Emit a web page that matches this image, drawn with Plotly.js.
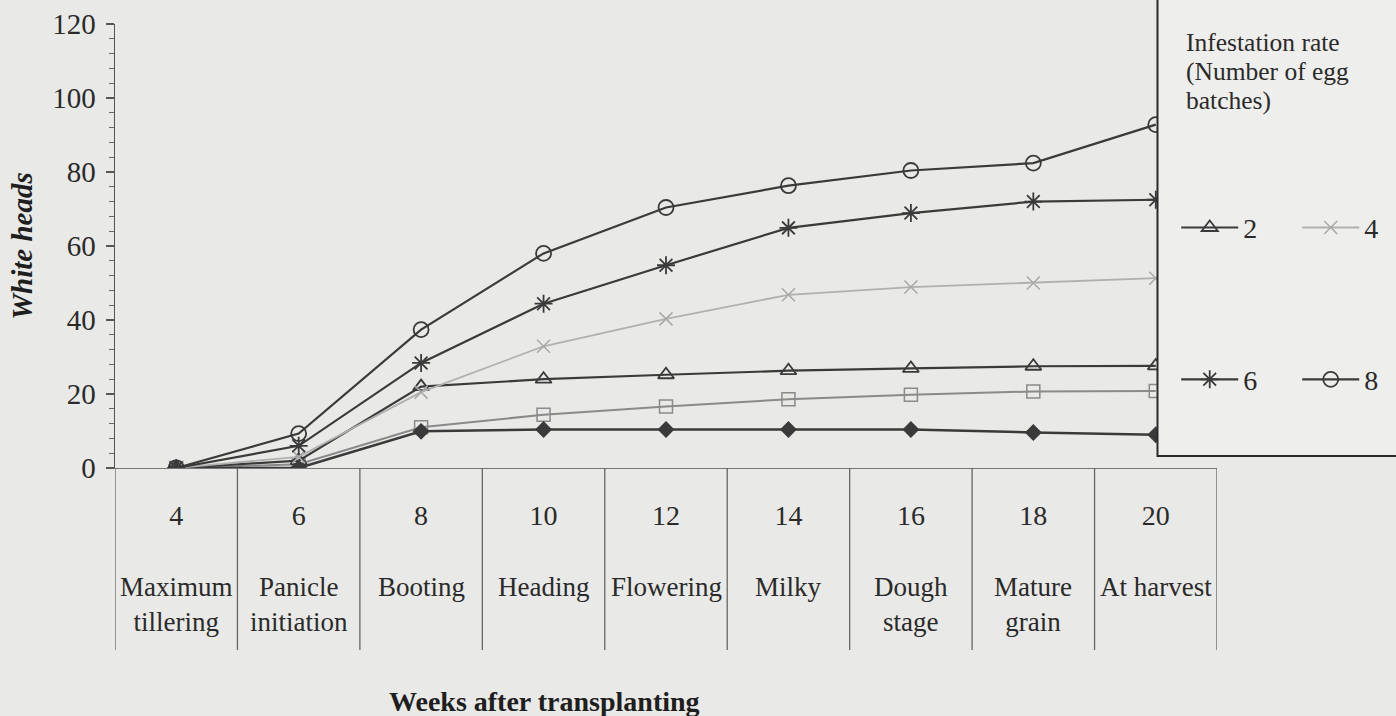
<!DOCTYPE html>
<html>
<head>
<meta charset="utf-8">
<script src="https://cdn.plot.ly/plotly-3.0.1.min.js"></script>
<style>html,body{margin:0;padding:0;background:#e9e9e7;}#chart{width:1396px;height:716px;}</style>
</head>
<body>
<div id="chart"></div>
<script>
// ---- data ----
const weeks = ['4', '6', '8', '10', '12', '14', '16', '18', '20'];
const stages = ['Maximum<br>tillering', 'Panicle<br>initiation', 'Booting', 'Heading', 'Flowering',
                'Milky', 'Dough<br>stage', 'Mature<br>grain', 'At harvest'];
const rate2 = [0, 2, 22, 24, 25.2, 26.3, 26.9, 27.5, 27.6];
const rate4 = [0, 3, 20.5, 32.9, 40.3, 46.8, 48.9, 50, 51.3];
const rate6 = [0, 6, 28.4, 44.4, 54.8, 64.9, 68.9, 72, 72.5];
const rate8 = [0, 9.3, 37.4, 58, 70.4, 76.3, 80.4, 82.4, 92.8];
const seriesSquare = [0, 1, 11, 14.4, 16.6, 18.6, 19.8, 20.7, 20.8];
const seriesDiamond = [0, 0, 9.9, 10.4, 10.4, 10.4, 10.4, 9.6, 9];
const legendTitleLines = ['Infestation rate', '(Number of egg', 'batches)'];
const yTitle = 'White heads';
const xTitle = 'Weeks after transplanting';

const dark = '#3a3a3a';
const serif = 'Liberation Serif, Times New Roman, serif';

const traces = [
  {name: 'sq', y: seriesSquare, x: weeks, mode: 'lines+markers', showlegend: false,
   line: {color: '#8a8a8a', width: 2},
   marker: {symbol: 'square-open', size: 13, color: '#8a8a8a', line: {width: 1.5}}},
  {name: 'dia', y: seriesDiamond, x: weeks, mode: 'lines+markers', showlegend: false,
   line: {color: dark, width: 2.5},
   marker: {symbol: 'diamond', size: 13, color: dark}},
  {name: '2', y: rate2, x: weeks, mode: 'lines+markers', legend: 'legend',
   line: {color: dark, width: 2.2},
   marker: {symbol: 'triangle-up-open', size: 14, color: dark, line: {width: 1.8}}},
  {name: '4', y: rate4, x: weeks, mode: 'lines+markers', legend: 'legend',
   line: {color: '#b0b0b0', width: 1.8},
   marker: {symbol: 'x-thin-open', size: 13, color: '#a8a8a8', line: {width: 1.5, color: '#a8a8a8'}}},
  {name: '6', y: rate6, x: weeks, mode: 'lines+markers', legend: 'legend2',
   line: {color: dark, width: 2.2},
   marker: {symbol: 'asterisk-open', size: 15, color: dark, line: {width: 1.8, color: dark}}},
  {name: '8', y: rate8, x: weeks, mode: 'lines+markers', legend: 'legend2',
   line: {color: dark, width: 2.2},
   marker: {symbol: 'circle-open', size: 15, color: dark, line: {width: 1.8}}}
];

const shapes = [];
const annotations = [];
for (let i = 0; i <= weeks.length; i++) {
  shapes.push({type: 'line', xref: 'x', yref: 'paper', x0: i - 0.5, x1: i - 0.5, y0: 0, y1: -0.41,
               line: {color: '#666', width: 1.3}});
}
stages.forEach((s, i) => {
  annotations.push({xref: 'x', yref: 'paper', x: i, y: -0.229, yanchor: 'top', xanchor: 'center',
                    text: s, showarrow: false, font: {family: serif, size: 27, color: '#2a2a2a'}});
});
annotations.push({xref: 'paper', yref: 'paper', x: 0.39, y: -0.525, yanchor: 'middle', xanchor: 'center',
                  text: '<b>' + xTitle + '</b>', showarrow: false, font: {family: serif, size: 28, color: '#1e1e1e'}});
// legend box
shapes.push({type: 'rect', xref: 'paper', yref: 'paper', x0: 0.946, x1: 1.3, y0: 0.027, y1: 1.06, layer: 'above',
             fillcolor: '#eeeeec', line: {color: '#2a2a2a', width: 2}});
legendTitleLines.forEach((t, i) => {
  annotations.push({xref: 'paper', yref: 'paper', x: 0.97, y: (468.3 - (43 + 29 * i)) / 444,
                    xanchor: 'left', yanchor: 'middle', align: 'left',
                    text: t, showarrow: false, font: {family: serif, size: 25.5, color: '#2a2a2a'}});
});

const layout = {
  width: 1396, height: 716,
  paper_bgcolor: '#e9e9e7', plot_bgcolor: 'rgba(0,0,0,0)',
  margin: {l: 115, r: 178.5, t: 24, b: 248, autoexpand: false},
  font: {family: serif, color: '#2a2a2a'},
  showlegend: true,
  xaxis: {type: 'category', range: [-0.5, 8.5], showgrid: false, zeroline: false,
          showline: true, linecolor: '#777', linewidth: 1.3, ticks: '',
          tickfont: {family: serif, size: 28, color: '#2a2a2a'}, ticklabelstandoff: 22},
  yaxis: {range: [0, 120], dtick: 20, showgrid: false, zeroline: false,
          showline: true, linecolor: '#555', linewidth: 1.5,
          ticks: 'outside', ticklen: 8, tickcolor: '#555', tickwidth: 1.3,
          minor: {dtick: 4, ticks: 'outside', ticklen: 5, tickcolor: '#666', tickwidth: 1},
          tickfont: {family: serif, size: 29, color: '#2a2a2a'}, ticklabelstandoff: 4,
          title: {text: yTitle, standoff: 11,
                  font: {family: serif, size: 29, color: '#1e1e1e', weight: 'bold', style: 'italic'}}},
  legend: {orientation: 'h', x: 0.963, y: 0.541, xanchor: 'left', yanchor: 'middle',
           bgcolor: 'rgba(0,0,0,0)', borderwidth: 0, itemwidth: 57, entrywidth: 49,
           font: {family: serif, size: 28, color: '#2a2a2a'}},
  legend2: {orientation: 'h', x: 0.963, y: 0.199, xanchor: 'left', yanchor: 'middle',
            bgcolor: 'rgba(0,0,0,0)', borderwidth: 0, itemwidth: 57, entrywidth: 49,
            font: {family: serif, size: 28, color: '#2a2a2a'}},
  shapes: shapes,
  annotations: annotations
};

Plotly.newPlot('chart', traces, layout, {displayModeBar: false, staticPlot: true});
</script>
</body>
</html>
